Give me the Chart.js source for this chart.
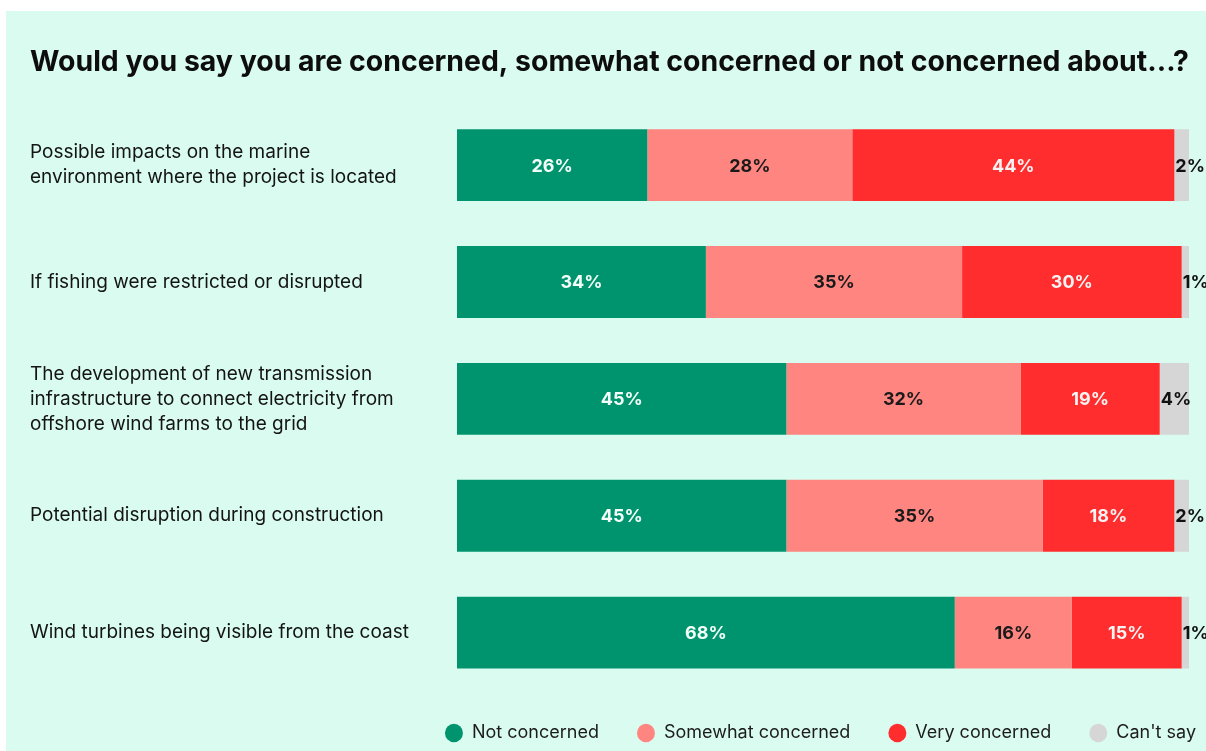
<!DOCTYPE html>
<html>
<head>
<meta charset="utf-8">
<script src="https://cdn.jsdelivr.net/npm/chart.js@4.4.1/dist/chart.umd.min.js"></script>
<style>
  html, body { margin: 0; padding: 0; background: #ffffff; overflow: hidden; }
  #panel { position: absolute; left: 6px; top: 11px; width: 1200px; height: 740px; background: #dafcf0; overflow: hidden; }
  canvas { display: block; }
</style>
</head>
<body>
<div id="panel"><canvas id="chart" width="1200" height="740"></canvas></div>
<script>
// Survey questions (y categories)
const categories = [
  ["Possible impacts on the marine", "environment where the project is located"],
  "If fishing were restricted or disrupted",
  ["The development of new transmission", "infrastructure to connect electricity from", "offshore wind farms to the grid"],
  "Potential disruption during construction",
  "Wind turbines being visible from the coast"
];

// Share of respondents (%) per answer
const notConcerned      = [26, 34, 45, 45, 68];
const somewhatConcerned = [28, 35, 32, 35, 16];
const veryConcerned     = [44, 30, 19, 18, 15];
const cantSay           = [2, 1, 4, 2, 1];

const seriesNames = ["Not concerned", "Somewhat concerned", "Very concerned", "Can't say"];
const seriesColors = ["#00946e", "#ff8580", "#ff2d2d", "#d6d6d6"];
const labelColors = ["#f4fff9", "#1a1a1a", "#f7f3f3", "#111111"];

const FONT = "Inter, 'Liberation Sans', Arial, sans-serif";

// Writes the percentage on each segment; the last series is written just past its start
const segmentLabels = {
  id: 'segmentLabels',
  afterDatasetsDraw(chart) {
    const ctx = chart.ctx;
    ctx.save();
    ctx.font = "700 18px " + FONT;
    ctx.textBaseline = 'middle';
    chart.data.datasets.forEach((ds, di) => {
      const meta = chart.getDatasetMeta(di);
      meta.data.forEach((bar, i) => {
        const v = ds.data[i];
        const text = v + '%';
        ctx.fillStyle = labelColors[di];
        if (di === chart.data.datasets.length - 1) {
          ctx.textAlign = 'left';
          ctx.fillText(text, Math.min(bar.x, bar.base) + 1, bar.y + 1);
        } else {
          ctx.textAlign = 'center';
          ctx.fillText(text, (bar.x + bar.base) / 2, bar.y + 1);
        }
      });
    });
    ctx.restore();
  }
};

// Moves the legend block so its last entry ends near the right edge
const legendShift = {
  id: 'legendShift',
  afterLayout(chart, args, opts) {
    const lg = chart.legend;
    if (!lg) return;
    lg.left += opts.dx; lg.right += opts.dx;
    lg.top += opts.dy; lg.bottom += opts.dy;
  }
};

const datasets = [notConcerned, somewhatConcerned, veryConcerned, cantSay].map((vals, i) => ({
  label: seriesNames[i],
  data: vals,
  backgroundColor: seriesColors[i],
  borderWidth: 0,
  barPercentage: 0.615,
  categoryPercentage: 1.0
}));

new Chart(document.getElementById('chart'), {
  type: 'bar',
  data: { labels: categories, datasets },
  plugins: [segmentLabels, legendShift],
  options: {
    indexAxis: 'y',
    responsive: false,
    animation: false,
    layout: { padding: { top: 0, left: 24, right: 17, bottom: -6 } },
    scales: {
      x: { stacked: true, min: 0, max: 100, display: false },
      y: {
        stacked: true,
        grid: { display: false },
        border: { display: false },
        afterFit(scale) { scale.width = 427; },
        ticks: {
          crossAlign: 'far',
          color: '#141414',
          padding: 0,
          font: { family: FONT, size: 19, lineHeight: 1.316 }
        }
      }
    },
    plugins: {
      title: {
        display: true,
        text: 'Would you say you are concerned, somewhat concerned or not concerned about…?',
        align: 'start',
        color: '#0d0d0d',
        font: { family: FONT, size: 28.5, weight: '700', lineHeight: 1.2 },
        padding: { top: 34.5, bottom: 27 }
      },
      legend: {
        position: 'bottom',
        align: 'end',
        labels: {
          usePointStyle: true,
          pointStyle: 'circle',
          pointStyleWidth: 18,
          boxHeight: 13,
          padding: 38,
          color: '#1c1c1c',
          font: { family: FONT, size: 18 }
        }
      },
      legendShift: { dx: 45, dy: -5 },
      tooltip: { enabled: false }
    }
  }
});
</script>
</body>
</html>
